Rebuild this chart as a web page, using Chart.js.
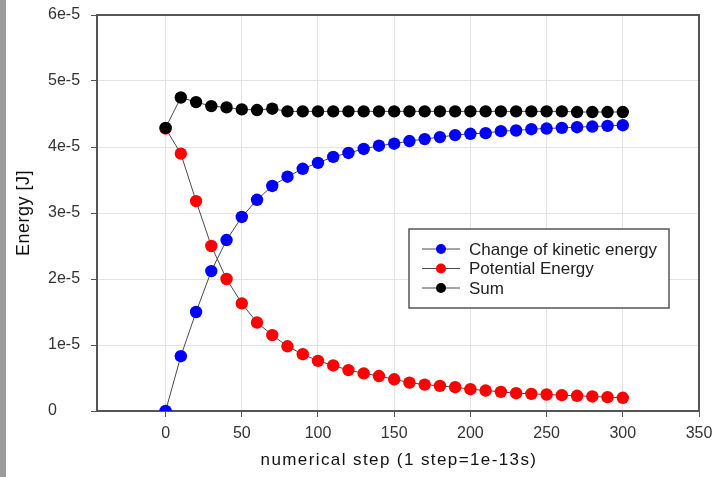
<!DOCTYPE html>
<html>
<head>
<meta charset="utf-8">
<script src="https://cdn.jsdelivr.net/npm/chart.js@4.4.1/dist/chart.umd.min.js"></script>
<style>
html, body { margin: 0; padding: 0; background: #fff; }
#wrap { position: relative; width: 713px; height: 477px; }
#strip { position: absolute; left: 0; top: 0; width: 6px; height: 477px; background: #9b9b9b; }
canvas { position: absolute; left: 0; top: 0; }
</style>
</head>
<body>
<div id="wrap"><canvas id="c" width="713" height="477"></canvas><div id="strip"></div></div>
<script>
// numerical step
const steps = [0, 10, 20, 30, 40, 50, 60, 70, 80, 90, 100, 110, 120, 130, 140, 150,
  160, 170, 180, 190, 200, 210, 220, 230, 240, 250, 260, 270, 280, 290, 300];

// energies, in units of 1e-5 J
const kinetic = [0, 0.83, 1.50, 2.12, 2.59, 2.94, 3.20, 3.41, 3.55, 3.67, 3.76, 3.85, 3.91,
  3.97, 4.02, 4.05, 4.09, 4.12, 4.15, 4.18, 4.20, 4.21, 4.24, 4.25, 4.27, 4.28, 4.29,
  4.30, 4.31, 4.32, 4.33];
const potential = [4.28, 3.90, 3.18, 2.50, 2.00, 1.63, 1.34, 1.15, 0.98, 0.86, 0.76, 0.69,
  0.62, 0.57, 0.53, 0.48, 0.43, 0.40, 0.38, 0.36, 0.33, 0.31, 0.29, 0.27, 0.26, 0.25,
  0.24, 0.23, 0.22, 0.21, 0.20];
const sum = [4.29, 4.75, 4.68, 4.62, 4.60, 4.57, 4.56, 4.58, 4.54, 4.54, 4.54, 4.54, 4.54,
  4.54, 4.54, 4.54, 4.54, 4.54, 4.54, 4.54, 4.54, 4.54, 4.54, 4.54, 4.54, 4.54, 4.54,
  4.53, 4.53, 4.53, 4.53];

const seriesNames = ['Change of kinetic energy', 'Potential Energy', 'Sum'];
const seriesColours = ['#0000ff', '#ff0000', '#000000'];
const yTickLabels = ['0', '1e-5', '2e-5', '3e-5', '4e-5', '5e-5', '6e-5'];

const FONT = 'Liberation Sans, Arial, sans-serif';
const LINE = '#4a4a4a';

const makeSet = (i, vals, order) => ({
  label: seriesNames[i],
  data: steps.map((s, k) => ({ x: s, y: vals[k] })),
  borderColor: LINE,
  borderWidth: 1,
  backgroundColor: seriesColours[i],
  pointBackgroundColor: seriesColours[i],
  pointBorderColor: seriesColours[i],
  pointBorderWidth: 0,
  pointRadius: 6.2,
  showLine: true,
  tension: 0,
  order: order
});

// frame, axis titles and the boxed legend
const extras = {
  id: 'extras',
  afterDraw(chart) {
    const ctx = chart.ctx;
    const a = chart.chartArea;
    ctx.save();
    ctx.strokeStyle = '#555';
    ctx.lineWidth = 2;
    ctx.beginPath();
    ctx.moveTo(a.left, a.top);
    ctx.lineTo(a.right, a.top);
    ctx.lineTo(a.right, a.bottom);
    ctx.stroke();

    ctx.fillStyle = '#111';
    ctx.textAlign = 'center';
    ctx.textBaseline = 'middle';
    ctx.font = '17px ' + FONT;
    ctx.letterSpacing = '1.4px';
    ctx.fillText('numerical step (1 step=1e-13s)', (a.left + a.right) / 2 + 1, 460);
    ctx.letterSpacing = '0.5px';
    ctx.font = '18px ' + FONT;
    ctx.translate(24, (a.top + a.bottom) / 2);
    ctx.rotate(-Math.PI / 2);
    ctx.fillText('Energy [J]', 0, 0);
    ctx.restore();

    // legend
    ctx.save();
    const bx = a.left + 312, by = a.top + 214;
    ctx.fillStyle = '#fff';
    ctx.fillRect(bx, by, 260, 79);
    ctx.strokeStyle = '#555';
    ctx.lineWidth = 1.5;
    ctx.strokeRect(bx, by, 260, 79);
    ctx.font = '17px ' + FONT;
    ctx.textBaseline = 'middle';
    ctx.textAlign = 'left';
    chart.data.datasets.forEach((ds, i) => {
      const y = by + 20 + i * 19.5;
      ctx.strokeStyle = LINE;
      ctx.lineWidth = 1;
      ctx.beginPath();
      ctx.moveTo(bx + 13, y);
      ctx.lineTo(bx + 51, y);
      ctx.stroke();
      ctx.fillStyle = ds.pointBackgroundColor;
      ctx.beginPath();
      ctx.arc(bx + 32, y, 5, 0, Math.PI * 2);
      ctx.fill();
      ctx.fillStyle = '#222';
      ctx.fillText(ds.label, bx + 60, y + 1);
    });
    ctx.restore();
  }
};

new Chart(document.getElementById('c'), {
  type: 'scatter',
  data: {
    datasets: [
      makeSet(0, kinetic, 3),
      makeSet(1, potential, 2),
      makeSet(2, sum, 1)
    ]
  },
  options: {
    responsive: false,
    animation: false,
    layout: { padding: { left: 48, top: 15, right: 14, bottom: 0 } },
    plugins: { legend: { display: false }, tooltip: { enabled: false } },
    scales: {
      x: {
        type: 'linear',
        position: 'bottom',
        min: -45,
        max: 350,
        ticks: {
          stepSize: 50,
          includeBounds: false,
          maxRotation: 0,
          padding: 7,
          color: '#333',
          font: { family: FONT, size: 16 },
          callback: v => String(v)
        },
        grid: { color: '#e3e3e3', tickColor: '#555', tickLength: 6 },
        border: { color: '#555', width: 2 },
        afterFit: s => { s.height = 66; s.paddingRight = 0; s.paddingLeft = 0; }
      },
      y: {
        type: 'linear',
        min: 0,
        max: 6,
        ticks: {
          stepSize: 1,
          crossAlign: 'far',
          color: '#333',
          font: { family: FONT, size: 16 },
          callback: v => yTickLabels[v]
        },
        grid: { color: '#e3e3e3', tickColor: '#555', tickLength: 6 },
        border: { color: '#555', width: 2 },
        afterFit: s => { s.width = 49; }
      }
    }
  },
  plugins: [extras]
});
</script>
</body>
</html>
